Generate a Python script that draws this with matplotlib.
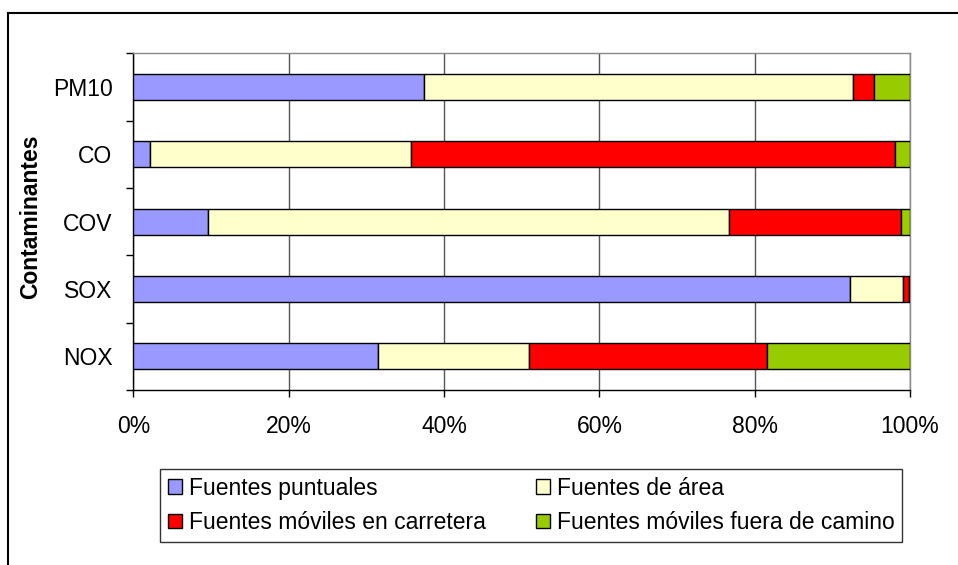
import numpy as np
import matplotlib.pyplot as plt
from matplotlib.lines import Line2D
from matplotlib.ticker import FixedLocator, PercentFormatter

plt.rcParams['font.family'] = ['Liberation Sans', 'DejaVu Sans']

# data (percent of total emissions per pollutant)
contaminantes = ['NOX', 'SOX', 'COV', 'CO', 'PM10']
puntuales  = [31.5, 92.3,  9.6,  2.2, 37.4]
area       = [19.4,  6.8, 67.1, 33.5, 55.3]
carretera  = [30.7,  0.7, 22.1, 62.3,  2.7]
camino     = [18.4,  0.2,  1.2,  2.0,  4.6]

series = [
    ('Fuentes puntuales', puntuales, '#9999FF'),
    ('Fuentes de área', area, '#FFFFCC'),
    ('Fuentes móviles en carretera', carretera, '#FF0000'),
    ('Fuentes móviles fuera de camino', camino, '#99CC00'),
]

FS = 16.5

fig = plt.figure(figsize=(9.58, 5.65), dpi=100)
ax = fig.add_axes([0.1392, 0.3097, 0.8108, 0.596])

y = np.arange(len(contaminantes))
tot = np.array(puntuales) + np.array(area) + np.array(carretera) + np.array(camino)
left = np.zeros(len(contaminantes))
handles = {}
for name, vals, col in series:
    pct = np.array(vals, dtype=float) / tot * 100
    b = ax.barh(y, pct, left=left, height=0.39, color=col,
                edgecolor='black', linewidth=1.0, zorder=3)
    handles[name] = b
    left += pct

ax.set_xlim(0, 100)
ax.set_ylim(-0.5, len(contaminantes) - 0.5)

ax.set_xticks(np.arange(0, 101, 20))
ax.xaxis.set_major_formatter(PercentFormatter(decimals=0))
ax.tick_params(axis='x', direction='out', length=5, width=1, pad=13, labelsize=FS)
ax.grid(axis='x', color='#555555', linewidth=1.0, zorder=0)

ax.set_yticks(y)
ax.set_yticklabels(contaminantes)
ax.tick_params(axis='y', which='major', length=0, pad=15, labelsize=FS)
ax.yaxis.set_minor_locator(FixedLocator(np.arange(-0.5, len(contaminantes), 1)))
ax.tick_params(axis='y', which='minor', direction='out', length=5, width=1)

ax.spines['left'].set_color('black')
ax.spines['bottom'].set_color('black')
ax.spines['top'].set_color('#888888')
ax.spines['right'].set_color('#888888')
for s in ax.spines.values():
    s.set_linewidth(1.0)

fig.text(31 / 958, 0.616, 'Contaminantes', rotation=90, ha='center', va='center',
         fontsize=FS, fontweight='bold')

order = ['Fuentes puntuales', 'Fuentes móviles en carretera',
         'Fuentes de área', 'Fuentes móviles fuera de camino']
leg = fig.legend([handles[n] for n in order], order, ncol=2,
                 bbox_to_anchor=(160 / 958, 1 - 542 / 565), loc='lower left',
                 fontsize=FS, frameon=True, fancybox=False, edgecolor='black',
                 handlelength=0.6, handleheight=0.6, handletextpad=0.3,
                 columnspacing=2.2, borderaxespad=0, labelspacing=0.5,
                 borderpad=0.35)
leg.get_frame().set_linewidth(1.0)

# chart area border (left and top visible)
x0, ytop = 8 / 958, 1 - 13 / 565
fig.add_artist(Line2D([x0, x0], [0, ytop], color='black', linewidth=1.5,
                      transform=fig.transFigure))
fig.add_artist(Line2D([x0, 1], [ytop, ytop], color='black', linewidth=1.5,
                      transform=fig.transFigure))

fig.savefig('out.png', dpi=100)
